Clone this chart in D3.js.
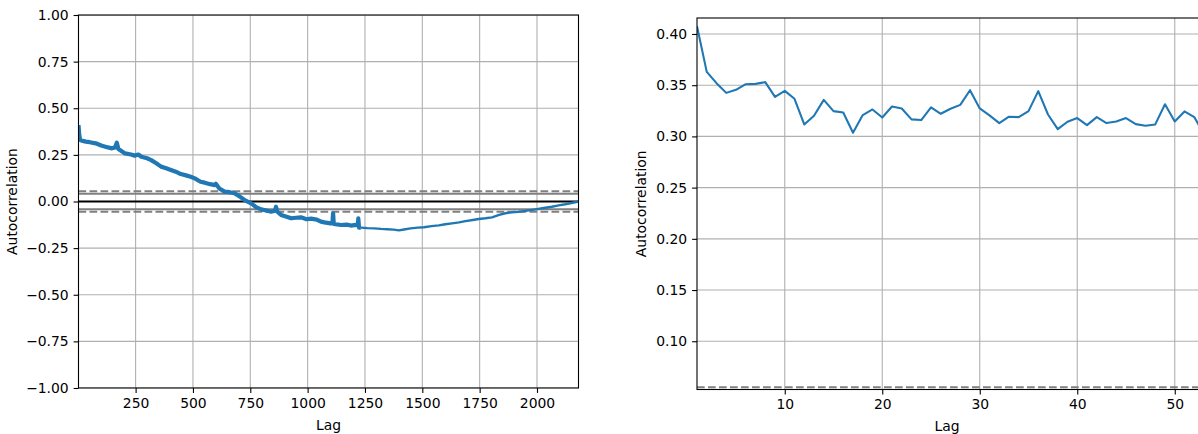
<!DOCTYPE html>
<html><head><meta charset="utf-8">
<script src="https://cdn.jsdelivr.net/npm/d3@7"></script>
<style>
body{margin:0;background:#fff}
svg{display:block}
text{font-family:"DejaVu Sans",sans-serif}
</style>
</head><body><svg id="c" width="1198" height="434"></svg>
<script>
// ---------- data ----------
const seriesLength = 2181;
const leftLags = [1,4,8,20,33,50,76,100,118,147,160,168,175,204,230,246,262,275,300,318,340,361,380,404,425,447,470,490,508,533,551,575,595,600,615,638,660,681,700,725,754,775,797,820,841,858,862,868,884,905,928,950,971,995,1015,1040,1058,1073,1100,1108,1111,1114,1145,1170,1189,1210,1219,1221,1224,1232,1260,1290,1320,1348,1375,1398,1420,1449,1480,1507,1540,1572,1600,1630,1660,1688,1720,1746,1775,1804,1835,1862,1890,1920,1950,1993,2030,2065,2095,2123,2150,2181];
const leftAcf = [0.41,0.36,0.33,0.325,0.321,0.318,0.312,0.300,0.294,0.285,0.290,0.315,0.282,0.258,0.252,0.246,0.252,0.240,0.232,0.222,0.205,0.187,0.180,0.169,0.160,0.147,0.140,0.133,0.124,0.106,0.101,0.093,0.088,0.095,0.070,0.053,0.050,0.044,0.030,0.008,-0.010,-0.030,-0.042,-0.048,-0.055,-0.050,-0.028,-0.055,-0.072,-0.080,-0.090,-0.087,-0.085,-0.095,-0.092,-0.097,-0.108,-0.112,-0.117,-0.117,-0.063,-0.120,-0.126,-0.124,-0.129,-0.125,-0.128,-0.090,-0.140,-0.140,-0.143,-0.144,-0.147,-0.149,-0.151,-0.155,-0.150,-0.144,-0.140,-0.138,-0.132,-0.128,-0.122,-0.117,-0.112,-0.105,-0.099,-0.094,-0.090,-0.085,-0.072,-0.063,-0.058,-0.055,-0.050,-0.042,-0.035,-0.028,-0.021,-0.015,-0.008,0.000];
const noisyUntilLag = 1232;

const rightLags = [1,2,3,4,5,6,7,8,9,10,11,12,13,14,15,16,17,18,19,20,21,22,23,24,25,26,27,28,29,30,31,32,33,34,35,36,37,38,39,40,41,42,43,44,45,46,47,48,49,50,51,52,53];
const rightAcf = [0.4075,0.363,0.352,0.3425,0.3455,0.351,0.3513,0.353,0.3386,0.3445,0.3367,0.3117,0.3201,0.3357,0.3247,0.3234,0.3036,0.3208,0.3263,0.3185,0.3292,0.3273,0.3166,0.316,0.3283,0.3221,0.327,0.3308,0.3451,0.3273,0.3205,0.313,0.3192,0.3188,0.3247,0.3442,0.3214,0.3071,0.3143,0.3179,0.311,0.3188,0.313,0.3146,0.3179,0.312,0.3104,0.3117,0.3314,0.3146,0.3244,0.3189,0.302];

const leftXTicks = [250,500,750,1000,1250,1500,1750,2000];
const leftYTicks = [-1,-0.75,-0.5,-0.25,0,0.25,0.5,0.75,1];
const rightXTicks = [10,20,30,40,50];
const rightYTicks = [0.10,0.15,0.20,0.25,0.30,0.35,0.40];

const xLabel = "Lag", yLabel = "Autocorrelation";

// ---------- drawing ----------
const svg = d3.select("#c");
const z95 = 1.959963984540054 / Math.sqrt(seriesLength);
const z99 = 2.5758293035489004 / Math.sqrt(seriesLength);
const FS = 13.9, TICK = 4.9, PAD = 4.9, LW = 2.08;

function panel(id, cfg) {
  const x = d3.scaleLinear().domain(cfg.xDomain).range(cfg.xRange);
  const y = d3.scaleLinear().domain(cfg.yDomain).range(cfg.yRange);
  const [x0, x1] = cfg.xRange, [y1, y0] = cfg.yRange;
  const g = svg.append("g");
  g.append("clipPath").attr("id", id).append("rect")
    .attr("x", x0).attr("y", y0).attr("width", x1 - x0).attr("height", y1 - y0);
  const plot = g.append("g").attr("clip-path", `url(#${id})`);

  // grid
  plot.selectAll(".gx").data(cfg.xTicks).join("line")
    .attr("x1", d => x(d)).attr("x2", d => x(d)).attr("y1", y0).attr("y2", y1)
    .attr("stroke", "#b0b0b0").attr("stroke-width", 1.1);
  plot.selectAll(".gy").data(cfg.yTicks).join("line").attr("class","gy")
    .attr("x1", x0).attr("x2", x1).attr("y1", d => y(d)).attr("y2", d => y(d))
    .attr("stroke", "#b0b0b0").attr("stroke-width", 1.1);

  // reference lines (pandas autocorrelation_plot)
  const refs = [
    {v: z99, c: "grey", dash: true}, {v: z95, c: "grey"}, {v: 0, c: "black"},
    {v: -z95, c: "grey"}, {v: -z99, c: "grey", dash: true}
  ];
  plot.selectAll(".ref").data(refs).join("line")
    .attr("x1", x0).attr("x2", x1).attr("y1", d => y(d.v)).attr("y2", d => y(d.v))
    .attr("stroke", d => d.c).attr("stroke-width", LW)
    .attr("stroke-dasharray", d => d.dash ? "7.7,3.3" : null);

  const line = d3.line().x(d => x(d[0])).y(d => y(d[1]));
  cfg.series.forEach(s => {
    plot.append("path").datum(s.pts).attr("d", line)
      .attr("fill", "none").attr("stroke", "#1f77b4")
      .attr("stroke-width", s.w).attr("stroke-linejoin", "round").attr("stroke-linecap", "butt");
  });

  // axes
  const ax = g.append("g").attr("transform", `translate(0,${y1})`)
    .call(d3.axisBottom(x).tickValues(cfg.xTicks).tickFormat(cfg.xFmt)
      .tickSize(TICK).tickSizeOuter(0).tickPadding(PAD));
  const ay = g.append("g").attr("transform", `translate(${x0},0)`)
    .call(d3.axisLeft(y).tickValues(cfg.yTicks).tickFormat(d3.format(".2f"))
      .tickSize(TICK).tickSizeOuter(0).tickPadding(PAD));
  [ax, ay].forEach(a => {
    a.select(".domain").remove();
    a.selectAll("line").attr("stroke", "black").attr("stroke-width", 1.1);
    a.selectAll("text").attr("font-size", FS).attr("fill", "black")
      .attr("font-family", '"DejaVu Sans"');
  });

  // spines
  g.append("rect").attr("x", x0).attr("y", y0).attr("width", x1 - x0).attr("height", y1 - y0)
    .attr("fill", "none").attr("stroke", "black").attr("stroke-width", 1.1);

  g.append("text").text(xLabel).attr("x", (x0 + Math.min(x1, 1198)) / 2 + cfg.xLabelShift)
    .attr("y", cfg.xLabelY).attr("text-anchor", "middle").attr("font-size", FS);
  g.append("text").text(yLabel)
    .attr("transform", `translate(${cfg.yLabelX},${(y0 + y1) / 2}) rotate(-90)`)
    .attr("text-anchor", "middle").attr("font-size", FS);
}

const leftPts = leftLags.map((l, i) => [l, leftAcf[i]]);
panel("clipL", {
  xDomain: [1, seriesLength], xRange: [78.5, 578.5],
  yDomain: [-1, 1], yRange: [388, 15],
  xTicks: leftXTicks, yTicks: leftYTicks, xFmt: d3.format("d"),
  series: [
    {pts: leftPts.filter(p => p[0] <= noisyUntilLag), w: 4.2},
    {pts: leftPts.filter(p => p[0] >= noisyUntilLag), w: 2.4}
  ],
  xLabelY: 430, yLabelX: 17, xLabelShift: 0
});

const rightPts = rightLags.map((l, i) => [l, rightAcf[i]]);
panel("clipR", {
  xDomain: [1, 54], xRange: [697, 697 + 53 * 9.75],
  yDomain: [0.0529, 0.4156], yRange: [389.5, 18],
  xTicks: rightXTicks, yTicks: rightYTicks, xFmt: d3.format("d"),
  series: [{pts: rightPts, w: LW}],
  xLabelY: 431, yLabelX: 646, xLabelShift: -0.5
});
</script>
</body></html>
